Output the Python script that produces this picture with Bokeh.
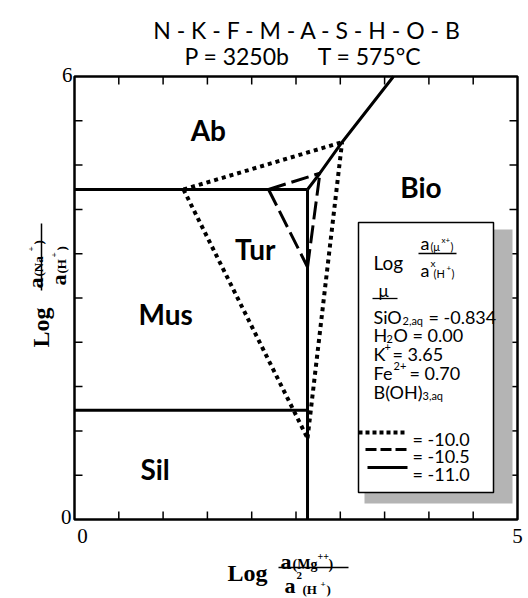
import math
from bokeh.plotting import figure
from bokeh.models import Range1d, Label, ColumnDataSource
from bokeh.core.properties import value
from bokeh.embed import file_html
from bokeh.resources import INLINE

# ---------------- data ----------------
# solid boundaries (log B(OH)3 = -11.0)
ab_bio_x = [2.63, 2.77, 3.02, 3.60]
ab_bio_y = [4.47, 4.69, 5.11, 6.00]
ab_mus_x = [0.00, 2.63]
ab_mus_y = [4.47, 4.47]
mus_bio_x = [2.63, 2.63]
mus_bio_y = [4.47, 0.00]
mus_sil_x = [0.00, 2.63]
mus_sil_y = [1.48, 1.48]
# dashed boundaries (log B(OH)3 = -10.5)
dash_x = [[2.19, 2.77], [2.19, 2.63], [2.63, 2.77]]
dash_y = [[4.47, 4.69], [4.47, 3.42], [3.42, 4.69]]
# dotted boundaries (log B(OH)3 = -10.0)
dot_x = [[1.23, 3.02], [1.23, 2.63], [2.63, 3.02]]
dot_y = [[4.47, 5.11], [4.47, 1.10], [1.10, 5.11]]
# field names
field_names = ["Ab", "Bio", "Tur", "Mus", "Sil"]
field_x = [1.51, 3.91, 2.04, 1.03, 0.91]
field_y = [5.27, 4.50, 3.67, 2.79, 0.69]
# axes
x_min, x_max = 0.0, 5.0
y_min, y_max = 0.0, 6.0
x_ticks = [0.5, 1.0, 1.5, 2.0, 2.5, 3.0, 3.5, 4.0, 4.5]
y_ticks = [0.6, 1.2, 1.8, 2.4, 3.0, 3.6, 4.2, 4.8, 5.4]
x_tick_labels = ["0", "5"]
y_tick_labels = ["0", "6"]
legend_values = ["= -10.0", "= -10.5", "= -11.0"]

# ---------------- figure ----------------
W, H = 528, 598
FL, FR, FT, FB = 74, 517, 76, 519          # plot box in pixels
PX = (FR - FL) / (x_max - x_min)
PY = (FB - FT) / (y_max - y_min)
p = figure(width=W, height=H,
           x_range=Range1d(x_min - FL / PX, x_max + (W - FR) / PX),
           y_range=Range1d(y_min - (H - FB) / PY, y_max + FT / PY),
           x_axis_type=None, y_axis_type=None, output_backend="svg",
           toolbar_location=None, min_border=0)
p.outline_line_color = None
p.background_fill_color = "white"
p.border_fill_color = "white"


def dx(sx):
    return x_min + (sx - FL) / PX


def dy(sy):
    return y_min + (FB - sy) / PY


def lab(sx, sy, text, size, font="Lato", style="normal", angle=0.0, align="left", baseline="alphabetic"):
    p.add_layout(Label(x=dx(sx), y=dy(sy), text=text, text_font=font,
                       text_font_size=f"{size}px", text_font_style=style, angle=angle,
                       text_align=align, text_baseline=baseline, text_color="black"))


def seg(x0, y0, x1, y1, w=1.3):
    p.line([dx(x0), dx(x1)], [dy(y0), dy(y1)], line_color="black", line_width=w)


# boundaries
p.multi_line(dot_x, dot_y, line_color="black", line_width=4, line_dash="4 4")
p.multi_line(dash_x, dash_y, line_color="black", line_width=3, line_dash="18 6")
for xs, ys in [(ab_bio_x, ab_bio_y), (ab_mus_x, ab_mus_y), (mus_bio_x, mus_bio_y), (mus_sil_x, mus_sil_y)]:
    p.line(xs, ys, line_color="black", line_width=3)

# frame and inward ticks
tlx = 8 / PX
tly = 8 / PY
p.segment(x0=x_ticks + x_ticks, y0=[y_min] * len(x_ticks) + [y_max] * len(x_ticks),
          x1=x_ticks + x_ticks, y1=[y_min + tly] * len(x_ticks) + [y_max - tly] * len(x_ticks),
          line_color="black", line_width=1.5)
p.segment(x0=[x_min] * len(y_ticks) + [x_max] * len(y_ticks), y0=y_ticks + y_ticks,
          x1=[x_min + tlx] * len(y_ticks) + [x_max - tlx] * len(y_ticks), y1=y_ticks + y_ticks,
          line_color="black", line_width=1.5)
p.quad(left=[x_min], right=[x_max], bottom=[y_min], top=[y_max], fill_color=None,
       line_color="black", line_width=2.5)

src = ColumnDataSource(dict(x=field_x, y=field_y, t=field_names))
p.text(x="x", y="y", text="t", source=src, text_font=value("Lato"), text_font_style="bold",
       text_font_size="28px", text_align="center", text_baseline="middle", text_color="black")

# legend box
p.quad(left=[dx(364)], right=[dx(512)], top=[dy(229)], bottom=[dy(503)],
       fill_color="#b4b4b4", line_color=None)
p.quad(left=[dx(358)], right=[dx(493)], top=[dy(222)], bottom=[dy(492)],
       fill_color="white", line_color="black", line_width=1.5)
p.line([dx(358), dx(407)], [dy(432), dy(432)], line_color="black", line_width=4, line_dash="4 3")
p.line([dx(365), dx(407)], [dy(449), dy(449)], line_color="black", line_width=3, line_dash="11 4")
p.line([dx(367), dx(407)], [dy(467), dy(467)], line_color="black", line_width=3)
seg(418, 253, 456, 253)
seg(372, 298, 397, 298)

# legend texts
lab(373, 262, "Log", 19)
lab(420, 242, "a", 18)
lab(430, 246, "(\u03bc", 11)
lab(441, 239, "x+", 8)
lab(450, 246, ")", 11)
lab(420, 269, "a", 18)
lab(430, 262, "x", 10)
lab(433, 273, "(H", 11)
lab(446, 267, "+", 8)
lab(451, 273, ")", 11)
lab(378, 290, "\u03bc", 17)
lab(373, 316, "SiO", 18)
lab(402, 320, "2,aq", 11)
lab(428, 316, "= -0.834", 18)
lab(373, 334, "H", 18)
lab(386, 338, "2", 11)
lab(393, 334, "O = 0.00", 18)
lab(373, 353, "K", 18)
lab(384, 346, "+", 11)
lab(392, 353, "= 3.65", 18)
lab(373, 372, "Fe", 18)
lab(393, 365, "2+", 11)
lab(409, 372, "= 0.70", 18)
lab(373, 391, "B(OH)", 18)
lab(422, 395, "3,aq", 11)
for i, sy in enumerate([438, 455, 473]):
    lab(412, sy, legend_values[i], 18)

# title
NB = "\u00a0"
t1 = (NB + "-" + NB).join(["N", "K", "F", "M", "A", "S", "H", "O", "B"])
t2 = "P" + NB + "=" + NB + "3250b" + NB * 5 + "T" + NB + "=" + NB + "575\u00b0C"
lab(306, 29, t1, 23, align="center")
lab(302, 55, t2, 23, align="center")

# tick labels
SER = "Liberation Serif"
lab(72, 74, y_tick_labels[1], 21, font=SER, align="right", baseline="middle")
lab(71, 516, y_tick_labels[0], 21, font=SER, align="right", baseline="middle")
lab(82, 528, x_tick_labels[0], 21, font=SER, align="center", baseline="top")
lab(517, 528, x_tick_labels[1], 21, font=SER, align="center", baseline="top")

# x axis label
lab(227, 572, "Log", 24, font=SER, style="bold")
lab(280, 561, "a", 22, font=SER, style="bold")
lab(292, 564, "(Mg", 14, font=SER, style="bold")
lab(317, 556, "++", 10, font=SER, style="bold")
lab(328, 564, ")", 14, font=SER, style="bold")
seg(278, 567, 348, 567, 1.5)
lab(284, 585, "a", 22, font=SER, style="bold")
lab(296, 575, "2", 11, font=SER, style="bold")
lab(302, 589, "(H", 13, font=SER, style="bold")
lab(320, 583, "+", 9, font=SER, style="bold")
lab(326, 589, ")", 13, font=SER, style="bold")

# y axis label (rotated)
A = math.pi / 2
lab(40, 347, "Log", 24, font=SER, style="bold", angle=A)
lab(35, 288, "a", 22, font=SER, style="bold", angle=A)
lab(38, 276, "(Na", 13, font=SER, style="bold", angle=A)
lab(30, 251, "+", 9, font=SER, style="bold", angle=A)
lab(38, 244, ")", 13, font=SER, style="bold", angle=A)
seg(41, 290, 41, 223, 1.5)
lab(58, 285, "a", 22, font=SER, style="bold", angle=A)
lab(61, 273, "(H", 13, font=SER, style="bold", angle=A)
lab(53, 257, "+", 9, font=SER, style="bold", angle=A)
lab(61, 250, ")", 13, font=SER, style="bold", angle=A)

open("out.html", "w").write(file_html(p, INLINE))
